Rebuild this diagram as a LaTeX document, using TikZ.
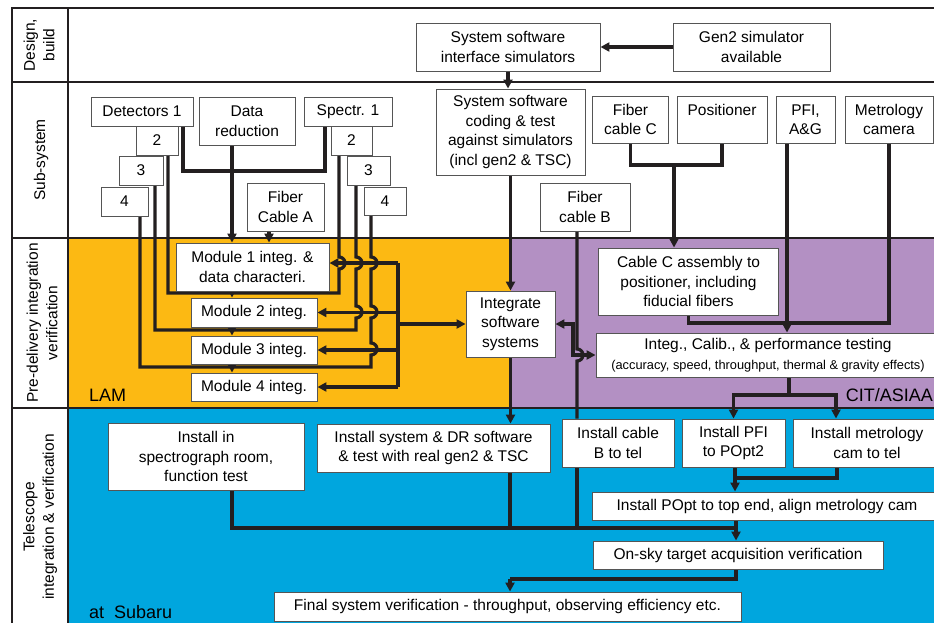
\documentclass[tikz,border=0pt]{standalone}
\usepackage{fontspec}
\setmainfont{Liberation Sans}
\usetikzlibrary{arrows.meta,calc}
\definecolor{lamy}{HTML}{FCB913}
\definecolor{citp}{HTML}{B390C3}
\definecolor{subb}{HTML}{00A6DE}
\definecolor{ink}{HTML}{231F20}
\definecolor{bord}{HTML}{555555}
\newcommand\fsz{\fontsize{15.5}{19.5}\selectfont}
\newcommand\fss{\fontsize{12.8}{15}\selectfont}
\newcommand\fsl{\fontsize{18}{21}\selectfont}
\pgfdeclarelayer{bg}\pgfdeclarelayer{wires}\pgfsetlayers{bg,wires,main}
\begin{document}
\begin{tikzpicture}[x=1pt,y=-1pt,
 box/.style={draw=bord,line width=0.9pt,fill=white,align=center,inner sep=0pt,font=\fsz},
 ln/.style={draw=ink,line width=3.2pt},
 arr/.style={ln,-{Triangle[length=9pt,width=9pt]}},
 dbl/.style={ln,{Triangle[length=9pt,width=9pt]}-{Triangle[length=9pt,width=9pt]}},
 lbl/.style={font=\fsz,align=center,rotate=90},
 frame/.style={draw=ink,line width=1.2pt}]
\useasboundingbox (0,0) rectangle (934,623);
% backgrounds and frame
\begin{pgfonlayer}{bg}
\fill[white] (0,0) rectangle (934,623);
\fill[lamy] (68,238) rectangle (511,408);
\fill[citp] (511,238) rectangle (934,408);
\fill[subb] (68,408) rectangle (934,623);
\draw[frame] (934,8) -- (12,8) -- (12,623);
\draw[frame] (68,8) -- (68,623);
\draw[frame] (12,82) -- (934,82);
\draw[frame] (12,238) -- (934,238);
\draw[frame] (12,408) -- (934,408);
\end{pgfonlayer}
% row labels
\node[lbl] (r1) at (39,45) {Design,\\build};
\node[lbl] (r2) at (41,160) {Sub-system};
\node[lbl] (r3) at (42,323) {Pre-delivery integration\\verification};
\node[lbl] (r4) at (40,517) {Telescope\\integration \& verification};
% region labels
\node[font=\fsl,anchor=west,inner sep=0pt] (lam) at (89,395) {LAM};
\node[font=\fsl,anchor=west,inner sep=0pt] (subaru) at (89,612) {at~~Subaru};
\node[font=\fsl,anchor=east,inner sep=0pt] (cit) at (933,395) {CIT/ASIAA};
% design row
\node[box,minimum width=184,minimum height=48] (ssis) at (508,47) {System software\\interface simulators};
\node[box,minimum width=157,minimum height=48] (gen2) at (751.5,47) {Gen2 simulator\\available};
% sub-system row
\node[box,minimum width=149,minimum height=86] (sscode) at (510.5,132) {System software\\coding \& test\\against simulators\\(incl gen2 \& TSC)};
\node[box,minimum width=102,minimum height=29] (det1) at (142,111.5) {Detectors 1};
\node[box,minimum width=42,minimum height=29] (det2) at (157,140.5) {2};
\node[box,minimum width=44,minimum height=29] (det3) at (141,170.5) {3};
\node[box,minimum width=47,minimum height=29] (det4) at (124.5,201.5) {4};
\node[box,minimum width=96,minimum height=48] (dr) at (247,121) {Data\\reduction};
\node[box,minimum width=77,minimum height=48] (fca) at (285.5,207) {Fiber\\Cable A};
\node[box,minimum width=88,minimum height=29] (sp1) at (348,111.5) {Spectr. 1};
\node[box,minimum width=41,minimum height=29] (sp2) at (351.5,140.5) {2};
\node[box,minimum width=43,minimum height=29] (sp3) at (368.5,170.5) {3};
\node[box,minimum width=42,minimum height=28] (sp4) at (385,201) {4};
\node[box,minimum width=90,minimum height=48] (fcb) at (585,207) {Fiber\\cable B};
\node[box,minimum width=76,minimum height=47] (fcc) at (630.5,119.5) {Fiber\\cable C};
\node[box,minimum width=90,minimum height=47] (pos) at (722,119.5) {Positioner\\~};
\node[box,minimum width=59,minimum height=47] (pfi) at (805.5,119.5) {PFI,\\A\&G};
\node[box,minimum width=88,minimum height=47] (met) at (889,119.5) {Metrology\\camera};
% pre-delivery row
\node[box,minimum width=153,minimum height=48] (m1) at (252.5,267) {Module 1 integ. \&\\data characteri.};
\node[box,minimum width=126,minimum height=29] (m2) at (254,312.5) {Module 2 integ.};
\node[box,minimum width=126,minimum height=28] (m3) at (254,350) {Module 3 integ.};
\node[box,minimum width=126,minimum height=28] (m4) at (254,387) {Module 4 integ.};
\node[box,minimum width=89,minimum height=66] (intsw) at (510.5,324) {Integrate\\software\\systems};
\node[box,minimum width=180,minimum height=67] (cablec) at (688.5,281.5) {Cable C assembly to\\positioner, including\\fiducial fibers};
\node[box,minimum width=344,minimum height=44] (intcal) at (768,355) {Integ., Calib., \& performance testing\\{\fss (accuracy, speed, throughput, thermal \& gravity effects)}};
% telescope row
\node[box,minimum width=196,minimum height=67] (insp) at (206,456.5) {Install in\\spectrograph room,\\function test};
\node[box,minimum width=233,minimum height=48] (insys) at (433.5,448) {Install system \& DR software\\\& test with real gen2 \& TSC};
\node[box,minimum width=112,minimum height=48] (incb) at (618,443) {Install cable\\B to tel};
\node[box,minimum width=103,minimum height=48] (inpfi) at (733.5,443) {Install PFI\\to POpt2};
\node[box,minimum width=148,minimum height=48] (inmet) at (867,443) {Install metrology\\cam to tel};
\node[box,minimum width=350,minimum height=28] (popt) at (767,506) {Install POpt to top end, align metrology cam};
\node[box,minimum width=290,minimum height=28] (onsky) at (738,555) {On-sky target acquisition verification};
\node[box,minimum width=467,minimum height=29] (final) at (507.5,606.5) {Final system verification - throughput, observing efficiency etc.};
% wires
\begin{pgfonlayer}{wires}
\draw[arr] (gen2.west) -- (ssis.east);
\draw[arr] (ssis.south) -- (ssis.south |- sscode.north);
\draw[arr] (sscode.south) -- (intsw.north);
\draw[arr] (intsw.south) -- (intsw.south |- insys.north);
% detectors 1 / spectr 1 / data reduction
\draw[ln] ([xshift=41]det1.south) -- (183,171) -- (325,171) -- ([xshift=-23]sp1.south);
\draw[arr] ([xshift=-15]dr.south) -- ([xshift=-20.5]m1.north);
\draw[arr] ([xshift=-16.5]fca.south) -- ([xshift=16.5]m1.north);
% module 2
\draw[ln] ([xshift=-12.5]sp2.south) -- (339,257) arc[start angle=90,end angle=-90,radius=6pt] -- (339,293) -- (168,293) -- ([xshift=11]det2.south);
\coordinate (h2) at (232,290);
\draw[arr] (h2) -- ([xshift=-22]m2.north);
% module 3
\draw[ln] ([xshift=-12.5]sp3.south) -- (356,257) arc[start angle=90,end angle=-90,radius=6pt] -- (356,306) arc[start angle=90,end angle=-90,radius=6pt] -- (356,330) -- (155,330) -- ([xshift=14]det3.south);
\coordinate (h3) at (232,327);
\draw[arr] (h3) -- ([xshift=-22]m3.north);
% module 4
\draw[ln] ([xshift=-14]sp4.south) -- (371,257) arc[start angle=90,end angle=-90,radius=6pt] -- (371,306) arc[start angle=90,end angle=-90,radius=6pt] -- (371,343) arc[start angle=90,end angle=-90,radius=6pt] -- (371,367) -- (140,367) -- ([xshift=15.5]det4.south);
\coordinate (h4) at (232,364);
\draw[arr] (h4) -- ([xshift=-22]m4.north);
% bus
\coordinate (bt) at (398,263);
\coordinate (bb) at (398,387);
\draw[ln] (bt) -- (bb);
\draw[arr] (bt) -- ([yshift=4]m1.east);
\draw[arr] (bt |- m2.east) -- (m2.east);
\draw[arr] (bt |- m3.east) -- (m3.east);
\draw[arr] (bb) -- (m4.east);
\draw[arr] (bt |- intsw.west) -- (intsw.west);
% fiber cable B
\draw[ln] ([xshift=-8]fcb.south) -- (577,349) arc[start angle=90,end angle=-90,radius=6pt] -- ([xshift=-41]incb.north);
\draw[dbl] (intcal.west) -- (573,355) -- (573,324) -- (intsw.east);
% cable C
\draw[ln] (fcc.south) -- (630.5,165) -- (722,165) -- (pos.south);
\coordinate (jc) at (674,165);
\draw[arr] (jc) -- ([xshift=-14.5]cablec.north);
\draw[arr] ([xshift=-18.5]pfi.south) -- ([xshift=19]intcal.north);
\draw[ln] (met.south) -- (889,323) -- (688.5,323) -- (cablec.south);
% to installs
\coordinate (jk) at (789,395);
\draw[ln] ([xshift=21]intcal.south) -- (jk);
\draw[arr] (jk) -| (inpfi.north);
\draw[arr] (jk) -| ([xshift=-31]inmet.north);
\coordinate (jp) at (735,478);
\draw[ln] ([xshift=1.5]inpfi.south) -- (jp) -- (837,478) -- ([xshift=-30]inmet.south);
\draw[arr] (jp) -- (jp |- popt.north);
% merge to on-sky
\coordinate (jo) at (736,528);
\draw[ln] ([xshift=26]insp.south) -- (232,528) -- (jo);
\draw[ln] ([xshift=76.5]insys.south) -- (510,528);
\draw[ln] ([xshift=-41]incb.south) -- (577,528);
\draw[ln] ([xshift=-31]popt.south) -- (jo);
\draw[arr] (jo) -- (jo |- onsky.north);
\coordinate (jf) at (510,579);
\draw[ln] ([xshift=-2]onsky.south) -- (736,579) -- (jf);
\draw[arr] (jf) -- (jf |- final.north);
\end{pgfonlayer}
\end{tikzpicture}
\end{document}
